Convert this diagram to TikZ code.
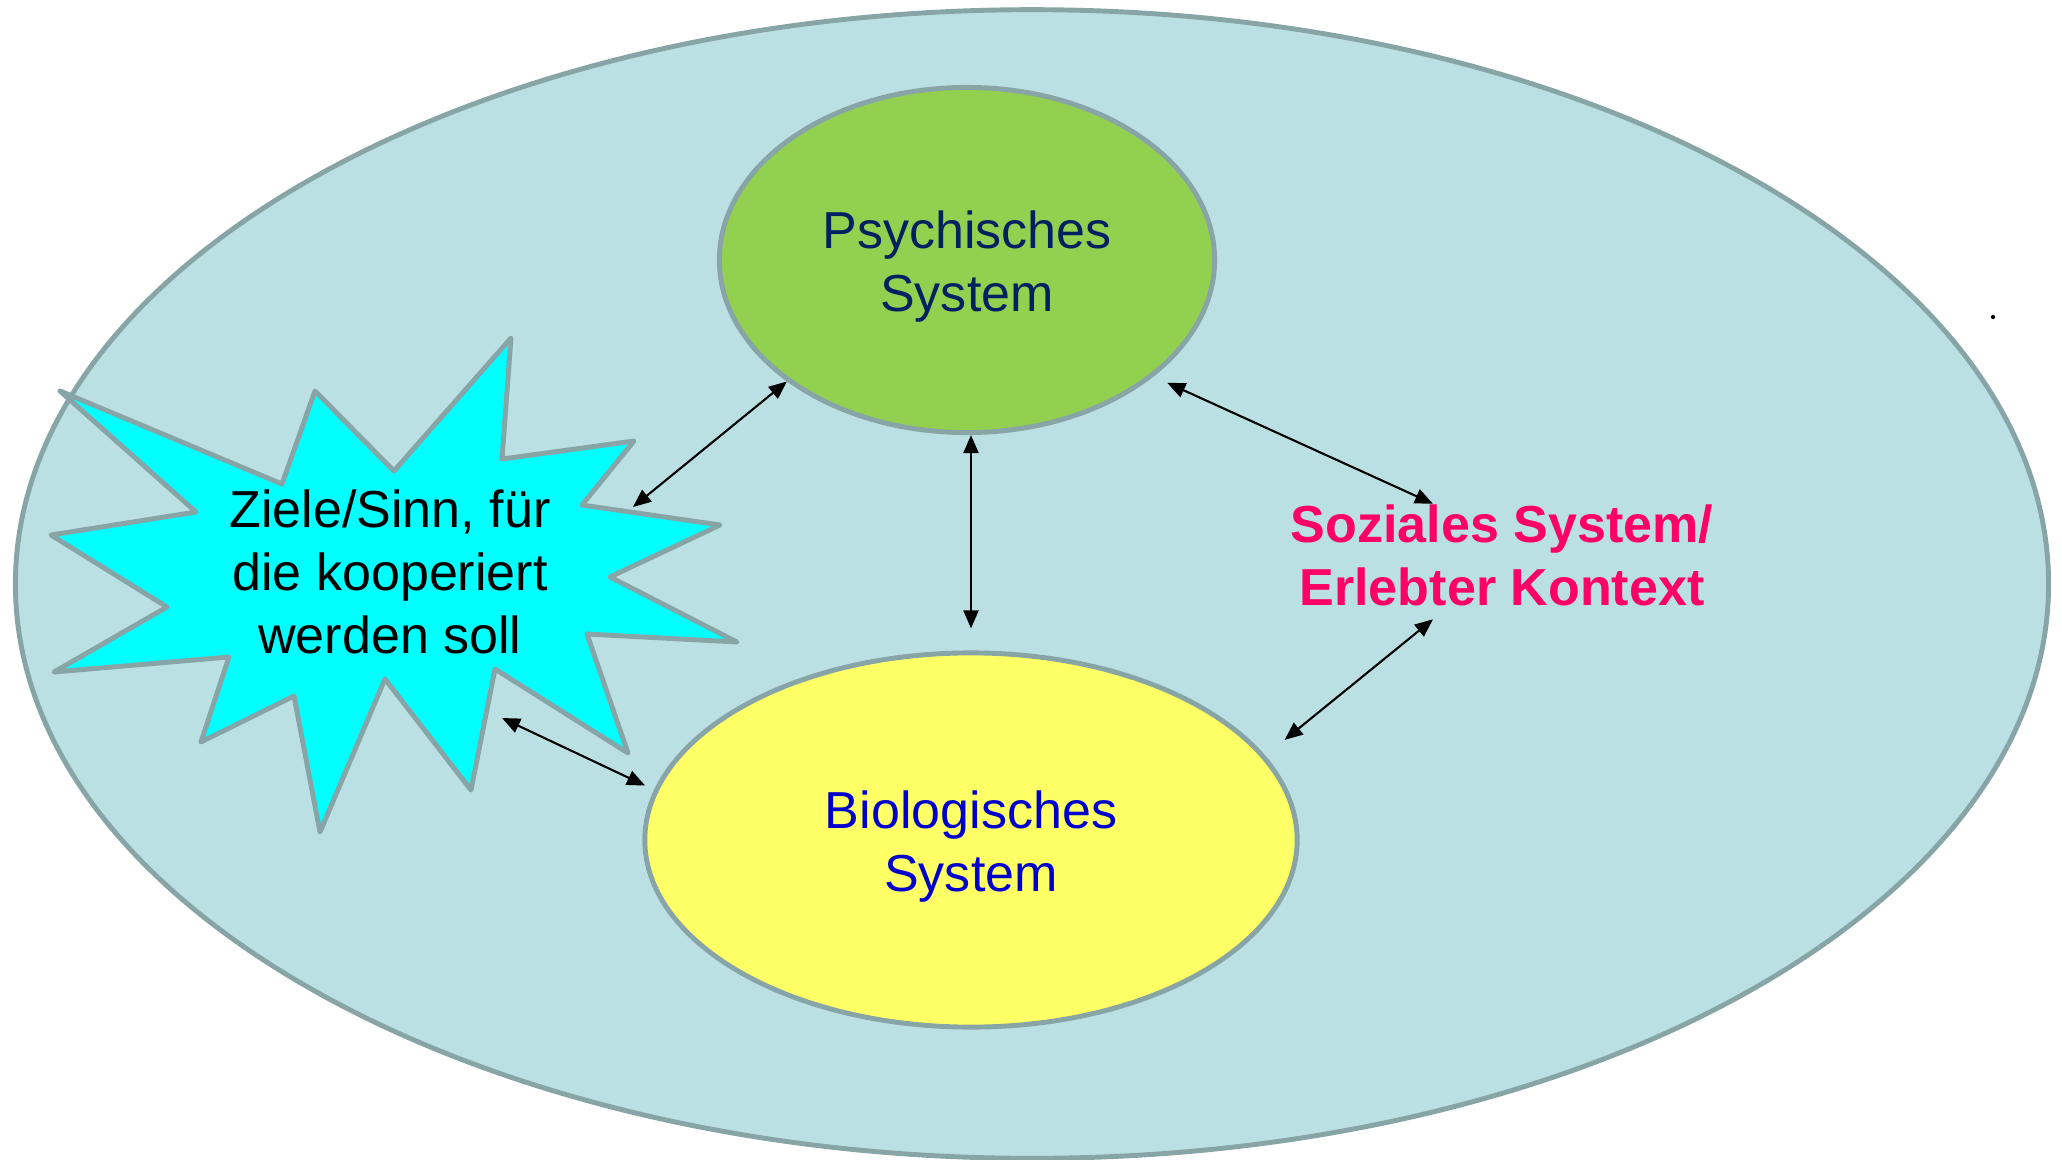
\documentclass[tikz,border=0pt]{standalone}
\usepackage{fontspec}
\setmainfont{Liberation Sans}
\usetikzlibrary{shapes.geometric,arrows.meta}
\definecolor{umwelt}{HTML}{BBE0E3}
\definecolor{rand}{HTML}{87A5A6}
\definecolor{psygruen}{HTML}{92D050}
\definecolor{biogelb}{HTML}{FFFF66}
\definecolor{zielcyan}{HTML}{00FFFF}
\definecolor{psyblau}{HTML}{002060}
\definecolor{bioblau}{HTML}{0000CC}
\definecolor{sozrot}{HTML}{FF0066}
\begin{document}
\begin{tikzpicture}[x=0.01cm,y=-0.01cm,
		schrift/.style={font=\fontsize{14.8}{17.9}\selectfont,align=center,inner sep=0pt},
		system/.style={ellipse,draw=rand,line width=1.4pt,inner sep=0pt},
		pfeil/.style={{Triangle[length=1.8mm,width=1.5mm]}-{Triangle[length=1.8mm,width=1.5mm]},line width=0.6pt}]
		\useasboundingbox (0,0) rectangle (2062,1160);
		\draw[rand,fill=umwelt,line width=1.4pt] (1032,584) ellipse [x radius=10.16cm,y radius=5.74cm];
		\node[system,fill=psygruen,minimum width=4.95cm,minimum height=3.45cm] (psy) at (967,260) {};
		\node[schrift,text=psyblau] (psytext) at ([yshift=-0.065cm]psy.center) {Psychisches\\System};
		\node[system,fill=biogelb,minimum width=6.52cm,minimum height=3.74cm] (bio) at (971,840) {};
		\node[schrift,text=bioblau] (biotext) at ([yshift=-0.065cm]bio.center) {Biologisches\\System};
		\draw[rand,fill=zielcyan,line width=1.4pt,line join=round] (60,391) -- (196,512) -- (51,535) -- (167,607) -- (54,672) -- (229,657)
			-- (201,742) -- (294,696) -- (320,832) -- (385,679) -- (471,790) -- (495,669) -- (628,753) -- (587,634)
			-- (737,642) -- (610,577) -- (720,525) -- (582,505) -- (634,441) -- (502,459) -- (511,338) -- (394,471)
			-- (315,391) -- (282,484) -- cycle;
		\node[schrift] (ziel) at (390,572) {Ziele/Sinn, für\\die kooperiert\\werden soll};
		\node[schrift,text=sozrot,font=\fontsize{14.8}{17.9}\selectfont\bfseries] (soz) at (1502,555) {Soziales System/\\Erlebter Kontext};
		\coordinate (zo) at (633,507);
		\coordinate (zu) at (502,718);
		\draw[pfeil] (zo) -- (psy.214);
		\draw[pfeil,shorten >=2.2mm] (psy.south -| bio.north) -- (bio.north);
		\draw[pfeil,shorten <=1.5mm] (psy.328) -- ([xshift=-0.69cm]soz.north);
		\draw[pfeil,shorten >=2.5mm] ([xshift=-0.69cm,yshift=-0.13cm]soz.south) -- (bio.16);
		\draw[pfeil,shorten >=1mm] (zu) -- (bio.171);
		\fill (1993,317) circle [radius=0.6pt];
	\end{tikzpicture}
\end{document}
